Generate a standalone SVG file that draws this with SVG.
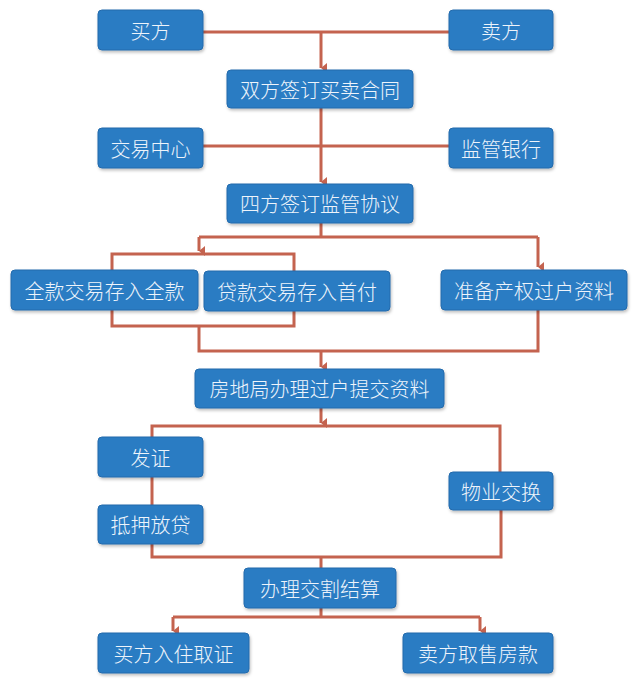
<svg xmlns="http://www.w3.org/2000/svg" width="640" height="683" viewBox="0 0 640 683">
<defs>
<style>
.node rect{fill:#2b7cc3;stroke:#236aac;stroke-width:1;filter:url(#sh)}
.node text{font-family:"Noto Sans CJK SC","Noto Sans",sans-serif;font-size:20px;font-weight:300;fill:#eef4fb;text-anchor:middle;dominant-baseline:central}
#connectors path{fill:none;stroke:#c4634f;stroke-width:3}
</style>
<filter id="sh" x="-10%" y="-20%" width="120%" height="150%">
<feDropShadow dx="1" dy="2" stdDeviation="1.5" flood-color="#000" flood-opacity="0.25"/>
</filter>
<marker id="ah" viewBox="0 0 10 8" refX="5" refY="8" markerWidth="10" markerHeight="8" markerUnits="userSpaceOnUse" orient="auto-start-reverse">
<path d="M0,2 L10,2 L5,8 Z" fill="#c4634f"/>
</marker>
</defs>
<rect width="640" height="683" fill="#ffffff"/>
<g id="connectors">
<path d="M203,32 H449"/>
<path d="M321,32 V68" marker-end="url(#ah)"/>
<path d="M321,108 V182" marker-end="url(#ah)"/>
<path d="M203,146 H449"/>
<path d="M321,223 V237 M199,237 H538"/>
<path d="M199,237 V251" marker-end="url(#ah)"/>
<path d="M538,237 V267" marker-end="url(#ah)"/>
<path d="M112,270 V254 H294 V271"/>
<path d="M112,310 V326 H294 V311"/>
<path d="M199,326 V351 H538 V310"/>
<path d="M321,351 V367" marker-end="url(#ah)"/>
<path d="M321,408 V423" marker-end="url(#ah)"/>
<path d="M152,437 V426 H500 V472"/>
<path d="M152,477 V505"/>
<path d="M152,544 V557 H501 V510"/>
<path d="M321,557 V568"/>
<path d="M321,608 V617 M173,617 H480"/>
<path d="M173,617 V631" marker-end="url(#ah)"/>
<path d="M480,617 V631" marker-end="url(#ah)"/>
</g>
<g id="n-buyer" class="node"><rect x="98" y="10" width="105" height="40" rx="4"/><text x="150.5" y="30">买方</text></g>
<g id="n-seller" class="node"><rect x="449" y="10" width="104" height="40" rx="4"/><text x="501" y="30">卖方</text></g>
<g id="n-contract" class="node"><rect x="227" y="70" width="186" height="38" rx="4"/><text x="320" y="89">双方签订买卖合同</text></g>
<g id="n-center" class="node"><rect x="98" y="128" width="105" height="40" rx="4"/><text x="150.5" y="148">交易中心</text></g>
<g id="n-bank" class="node"><rect x="449" y="128" width="104" height="40" rx="4"/><text x="501" y="148">监管银行</text></g>
<g id="n-agreement" class="node"><rect x="227" y="184" width="186" height="39" rx="4"/><text x="320" y="203.5">四方签订监管协议</text></g>
<g id="n-full" class="node"><rect x="11" y="270" width="187" height="40" rx="4"/><text x="104.5" y="290">全款交易存入全款</text></g>
<g id="n-loan" class="node"><rect x="204" y="271" width="186" height="40" rx="4"/><text x="297" y="291">贷款交易存入首付</text></g>
<g id="n-prepare" class="node"><rect x="441" y="270" width="186" height="40" rx="4"/><text x="534" y="290">准备产权过户资料</text></g>
<g id="n-bureau" class="node"><rect x="195" y="369" width="249" height="39" rx="4"/><text x="319.5" y="388.5">房地局办理过户提交资料</text></g>
<g id="n-cert" class="node"><rect x="98" y="437" width="105" height="40" rx="4"/><text x="150.5" y="457">发证</text></g>
<g id="n-property" class="node"><rect x="449" y="472" width="104" height="38" rx="4"/><text x="501" y="491">物业交换</text></g>
<g id="n-mortgage" class="node"><rect x="98" y="505" width="105" height="39" rx="4"/><text x="150.5" y="524.5">抵押放贷</text></g>
<g id="n-settle" class="node"><rect x="244" y="568" width="152" height="40" rx="4"/><text x="320" y="588">办理交割结算</text></g>
<g id="n-buyerin" class="node"><rect x="98" y="633" width="151" height="40" rx="4"/><text x="173.5" y="653">买方入住取证</text></g>
<g id="n-sellerpay" class="node"><rect x="403" y="633" width="150" height="40" rx="4"/><text x="478" y="653">卖方取售房款</text></g>
</svg>
